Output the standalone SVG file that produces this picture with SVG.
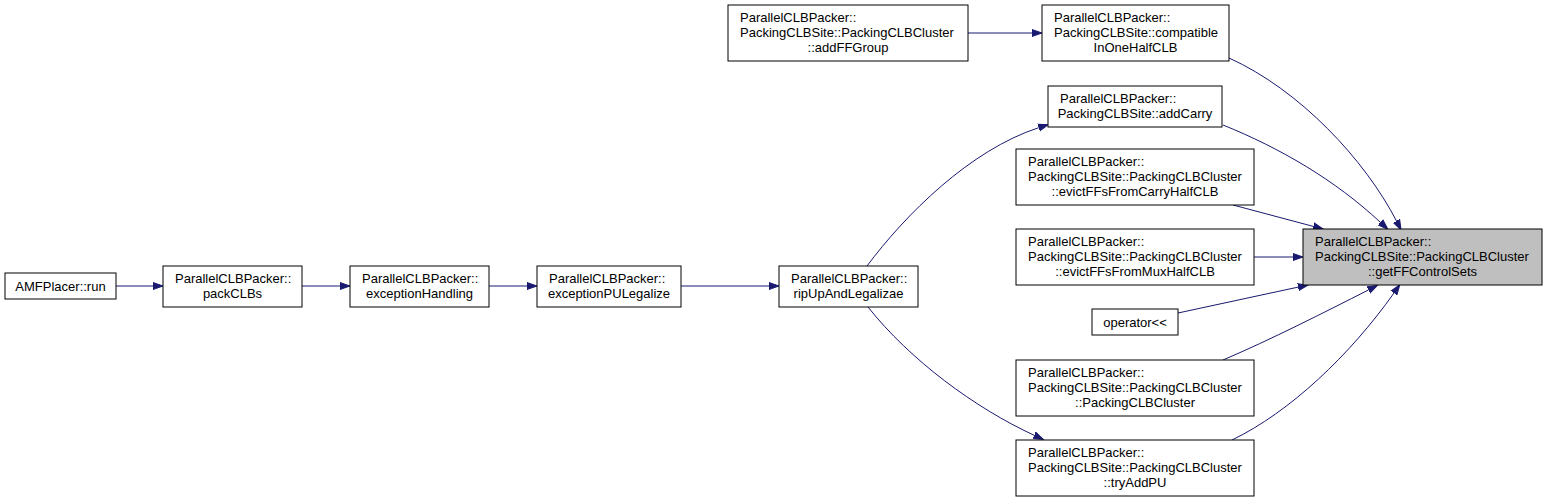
<svg xmlns="http://www.w3.org/2000/svg" width="1547" height="501" viewBox="0 0 1547 501">
<style>
.n rect{fill:#ffffff;stroke:#000000;stroke-width:1}
.n.h rect{fill:#bfbfbf}
.n text{font-family:"Liberation Sans",Arial,sans-serif;font-size:13px;fill:#000000}
.m{text-anchor:middle}
.e path{fill:none;stroke:#191970;stroke-width:1;marker-end:url(#ah)}
</style>
<defs>
<marker id="ah" markerUnits="userSpaceOnUse" markerWidth="12" markerHeight="9" refX="0" refY="4.5" orient="auto" viewBox="0 0 12 9">
<path d="M0,1 L10,4.5 L0,8 z" fill="#191970" stroke="#191970" stroke-width="1"/>
</marker>
</defs>
<rect x="0" y="0" width="1547" height="501" fill="#ffffff"/>
<g id="edges" class="e">
<path d="M116,286 L153,286"/>
<path d="M302,286 L340,286"/>
<path d="M489,286 L527,286"/>
<path d="M681,286 L769,286"/>
<path d="M867,266 C905,215 970,150 1038.7,127.7"/>
<path d="M868,307 C910,360 975,408 1034.2,435.3"/>
<path d="M968,33 L1032,33"/>
<path d="M1229,58 C1300,90 1365,160 1396.5,221"/>
<path d="M1223,125 C1280,148 1335,180 1380.5,222.4"/>
<path d="M1233,205 L1313.3,226.4"/>
<path d="M1254,257 L1293,257"/>
<path d="M1178,313 L1298.2,287.1"/>
<path d="M1223,360 C1270,340 1325,312 1368.4,290"/>
<path d="M1232,440 C1290,412 1350,355 1394,293"/>
</g>
<g id="node-run" class="n">
<rect x="5" y="273" width="111" height="26"/>
<text class="m" x="60.5" y="290.5">AMFPlacer::run</text>
</g>
<g id="node-packCLBs" class="n">
<rect x="163" y="266" width="139" height="41"/>
<text x="175" y="282.5">ParallelCLBPacker::</text>
<text class="m" x="232.5" y="297.5">packCLBs</text>
</g>
<g id="node-exceptionHandling" class="n">
<rect x="350" y="266" width="139" height="41"/>
<text x="362" y="282.5">ParallelCLBPacker::</text>
<text class="m" x="419.5" y="297.5">exceptionHandling</text>
</g>
<g id="node-exceptionPULegalize" class="n">
<rect x="537" y="266" width="144" height="41"/>
<text x="549" y="282.5">ParallelCLBPacker::</text>
<text class="m" x="609" y="297.5">exceptionPULegalize</text>
</g>
<g id="node-ripUpAndLegalizae" class="n">
<rect x="779" y="266" width="139" height="41"/>
<text x="791" y="282.5">ParallelCLBPacker::</text>
<text class="m" x="848.5" y="297.5">ripUpAndLegalizae</text>
</g>
<g id="node-addFFGroup" class="n">
<rect x="728" y="5" width="240" height="56"/>
<text x="740" y="21.5">ParallelCLBPacker::</text>
<text x="740" y="36.5">PackingCLBSite::PackingCLBCluster</text>
<text class="m" x="848" y="51.5">::addFFGroup</text>
</g>
<g id="node-compatibleInOneHalfCLB" class="n">
<rect x="1042" y="5" width="187" height="56"/>
<text x="1054" y="21.5">ParallelCLBPacker::</text>
<text x="1054" y="36.5">PackingCLBSite::compatible</text>
<text class="m" x="1135.5" y="51.5">InOneHalfCLB</text>
</g>
<g id="node-addCarry" class="n">
<rect x="1048" y="86" width="174" height="41"/>
<text x="1060" y="102.5">ParallelCLBPacker::</text>
<text class="m" x="1135" y="117.5">PackingCLBSite::addCarry</text>
</g>
<g id="node-evictFFsFromCarryHalfCLB" class="n">
<rect x="1016" y="149" width="238" height="56"/>
<text x="1028" y="165.5">ParallelCLBPacker::</text>
<text x="1028" y="180.5">PackingCLBSite::PackingCLBCluster</text>
<text class="m" x="1135" y="195.5">::evictFFsFromCarryHalfCLB</text>
</g>
<g id="node-evictFFsFromMuxHalfCLB" class="n">
<rect x="1016" y="229" width="238" height="56"/>
<text x="1028" y="245.5">ParallelCLBPacker::</text>
<text x="1028" y="260.5">PackingCLBSite::PackingCLBCluster</text>
<text class="m" x="1135" y="275.5">::evictFFsFromMuxHalfCLB</text>
</g>
<g id="node-operator" class="n">
<rect x="1092" y="309" width="86" height="26"/>
<text class="m" x="1135" y="326.5">operator&lt;&lt;</text>
</g>
<g id="node-PackingCLBCluster" class="n">
<rect x="1016" y="360" width="238" height="56"/>
<text x="1028" y="376.5">ParallelCLBPacker::</text>
<text x="1028" y="391.5">PackingCLBSite::PackingCLBCluster</text>
<text class="m" x="1135" y="406.5">::PackingCLBCluster</text>
</g>
<g id="node-tryAddPU" class="n">
<rect x="1016" y="440" width="238" height="56"/>
<text x="1028" y="456.5">ParallelCLBPacker::</text>
<text x="1028" y="471.5">PackingCLBSite::PackingCLBCluster</text>
<text class="m" x="1135" y="486.5">::tryAddPU</text>
</g>
<g id="node-getFFControlSets" class="n h">
<rect x="1303" y="229" width="239" height="56"/>
<text x="1315" y="245.5">ParallelCLBPacker::</text>
<text x="1315" y="260.5">PackingCLBSite::PackingCLBCluster</text>
<text class="m" x="1422.5" y="275.5">::getFFControlSets</text>
</g>
</svg>
